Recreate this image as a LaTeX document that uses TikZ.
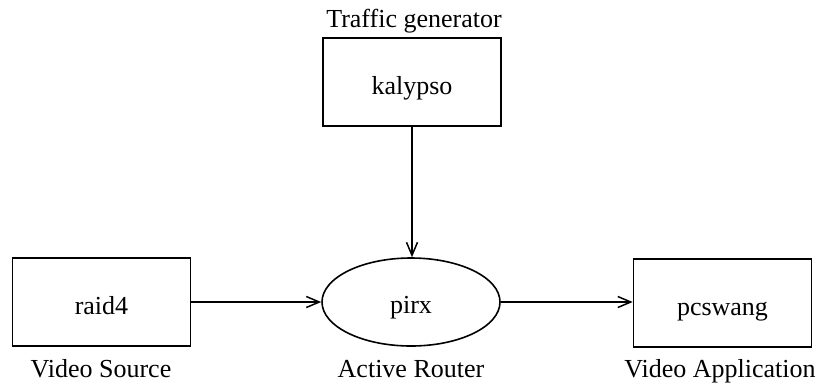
\documentclass[tikz,border=0pt]{standalone}
\usepackage{fontspec}
\setmainfont{Liberation Serif}
\usetikzlibrary{arrows.meta,shapes.geometric}
\begin{document}
\begin{tikzpicture}[x=1pt,y=-1pt,
  every node/.style={font=\fontsize{26}{30}\selectfont},
  hostbox/.style={draw,line width=1.6pt,rectangle,minimum width=178pt,minimum height=88pt,inner sep=0pt,text height=24pt,text depth=0pt},
  router/.style={draw,line width=1.6pt,ellipse,minimum width=178pt,minimum height=88pt,inner sep=0pt,text height=22pt,text depth=0pt},
  caption/.style={anchor=base,inner sep=0pt},
  link/.style={line width=1.5pt,-{Straight Barb[length=13pt,width=11pt,line width=1.5pt]}}]
\useasboundingbox (0,0) rectangle (821,384);
\node[hostbox] (kalypso) at (412,82) {kalypso};
\node[router]  (pirx)    at (411,302) {pirx};
\node[hostbox] (raid4)   at (101.5,302) {raid4};
\node[hostbox] (pcswang) at (722.5,303) {pcswang};
\node[caption] (tg) at (414,27) {Traffic generator};
\node[caption] (vs) at (101,377) {Video Source};
\node[caption] (ar) at (411,377) {Active Router};
\node[caption] (va) at (720,377) {Video Application};
\draw[link] (kalypso.south) -- (kalypso.south |- pirx.north);
\draw[link] (raid4.east) -- (pirx.west);
\draw[link] (pirx.east) -- (pirx.east -| pcswang.west);
\end{tikzpicture}
\end{document}
